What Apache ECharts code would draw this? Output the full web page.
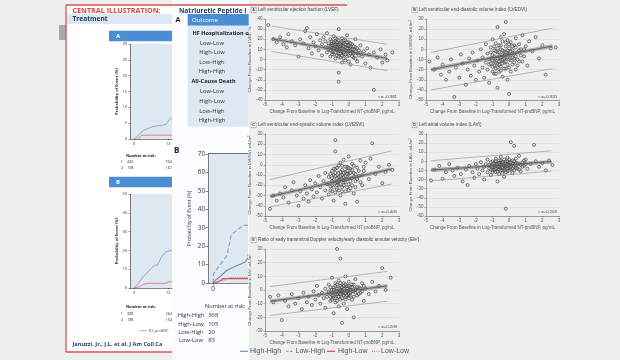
<!DOCTYPE html>
<html><head><meta charset="utf-8">
<script src="https://cdn.jsdelivr.net/npm/echarts@6/dist/echarts.min.js"></script>
<style>html,body{margin:0;padding:0;background:#eef0ef}#c{width:620px;height:360px}</style>
</head><body><div id="c"></div>
<script>
// ---------- DATA ----------
const scatterXName = 'Change From Baseline in Log-Transformed NT-proBNP, pg/mL';
const panelTitles = ['Left ventricular ejection fraction (LVEF)','Left ventricular end-diastolic volume index (LVEDVI)','Left ventricular end-systolic volume index (LVESVI)','Left atrial volume index (LAVI)','Ratio of early transmitral Doppler velocity/early diastolic annular velocity (E/e\u2032)'];
const panelLetters = ['A','B','C','D','E'];
const yTitles = ['Change From Baseline in LVEF, %','Change From Baseline in LVEDVI, mL/m\u00b2','Change From Baseline in LVESVI, mL/m\u00b2','Change From Baseline in LAVI, mL/m\u00b2','Change From Baseline in E/e\u2032, mL/m\u00b2'];
const rLabels = ['r = -0.381','r =+0.320','r =+0.405','r =+0.263','r =+0.209'];
const yRanges = [[-40,40],[-50,30],[-50,30],[-60,30],[-30,30]];

const lvefPoints = [[-4.8,34],[-4.5,20],[-4.3,17],[-4.1,22],[-3.9,15],[-3.7,12],[-3.6,25],[-3.4,18],[-3.2,14],[-3.0,3],[-2.9,20],[-2.7,16],[-2.6,28],[-2.5,31],[-2.4,11],[-2.3,22],[-2.2,6],[-2.1,17],[-2.0,13],[-1.9,25],[-1.8,9],[-1.7,19],[-1.6,15],[-1.6,4],[-1.5,22],[-1.4,12],[-1.4,18],[-1.3,7],[-1.3,26],[-1.2,14],[-1.2,10],[-1.1,20],[-1.1,3],[-1.0,16],[-1.0,12],[-1.0,8],[-0.9,23],[-0.9,14],[-0.9,5],[-0.8,18],[-0.8,11],[-0.8,1],[-0.7,15],[-0.7,9],[-0.7,20],[-0.6,30],[-0.6,13],[-0.6,6],[-0.6,-13],[-0.6,-22],[-0.5,17],[-0.5,11],[-0.5,2],[-0.5,8],[-0.4,14],[-0.4,21],[-0.4,-3],[-0.3,10],[-0.3,16],[-0.3,5],[-0.2,12],[-0.2,19],[-0.2,-1],[-0.1,8],[-0.1,14],[-0.1,24],[0.0,11],[0.0,4],[0.0,17],[0.1,9],[0.1,13],[0.1,-5],[0.2,7],[0.2,15],[0.3,10],[0.3,2],[0.4,12],[0.4,20],[0.5,6],[0.5,-2],[0.6,9],[0.7,14],[0.8,3],[0.9,8],[1.0,-4],[1.1,11],[1.2,5],[1.3,-8],[1.5,-30],[1.5,7],[1.7,2],[1.9,10],[2.0,-3],[2.2,5],[2.3,-1],[2.6,7]];
const lvefCore = [[-1.2,16],[-1.1,13],[-1.1,9],[-1.0,18],[-1.0,14],[-1.0,5],[-0.9,11],[-0.9,17],[-0.9,8],[-0.8,13],[-0.8,21],[-0.8,7],[-0.8,15],[-0.7,12],[-0.7,4],[-0.7,17],[-0.7,10],[-0.6,15],[-0.6,9],[-0.6,19],[-0.6,3],[-0.5,13],[-0.5,6],[-0.5,15],[-0.5,10],[-0.4,8],[-0.4,17],[-0.4,11],[-0.4,4],[-0.3,13],[-0.3,7],[-0.3,19],[-0.3,1],[-0.2,9],[-0.2,15],[-0.2,5],[-0.1,11],[-0.1,17],[-0.1,3],[0.0,8],[0.0,14],[0.0,-2],[0.1,11],[0.1,6],[0.1,16],[0.2,3],[0.2,10],[0.3,13],[0.3,6],[0.4,8],[0.4,1],[0.5,11],[0.6,4],[0.7,7]];
const lvedviPoints = [[-4.8,-12],[-4.5,-20],[-4.3,-8],[-4.1,-25],[-4.0,-15],[-3.8,-30],[-3.6,-22],[-3.5,-10],[-3.3,-47],[-3.2,-18],[-3.0,-28],[-2.9,-5],[-2.8,-14],[-2.6,-35],[-2.5,-20],[-2.4,-9],[-2.3,-26],[-2.2,-3],[-2.1,-16],[-2.0,-30],[-1.9,-11],[-1.8,-22],[-1.7,0],[-1.6,-18],[-1.6,-8],[-1.5,-28],[-1.4,-13],[-1.4,5],[-1.3,-20],[-1.3,-4],[-1.2,-15],[-1.2,-33],[-1.1,-9],[-1.1,2],[-1.0,-17],[-1.0,-6],[-1.0,10],[-0.9,-24],[-0.9,-12],[-0.9,-1],[-0.8,-19],[-0.8,6],[-0.8,-9],[-0.7,22],[-0.7,-14],[-0.7,-3],[-0.7,-38],[-0.6,-7],[-0.6,4],[-0.6,-22],[-0.5,-11],[-0.5,0],[-0.5,12],[-0.5,-17],[-0.4,-5],[-0.4,-27],[-0.4,8],[-0.3,-13],[-0.3,-2],[-0.3,15],[-0.2,27],[-0.2,-8],[-0.2,-19],[-0.2,3],[-0.1,-4],[-0.1,-30],[-0.1,9],[0.0,-10],[0.0,1],[0.0,-44],[0.1,-6],[0.1,7],[0.2,-15],[0.2,-1],[0.3,4],[0.3,-9],[0.4,-20],[0.4,11],[0.5,-3],[0.6,5],[0.6,-12],[0.7,0],[0.8,14],[0.9,-7],[1.0,3],[1.1,-16],[1.2,8],[1.4,-2],[1.6,12],[1.8,-9],[2.0,4],[2.2,-25],[2.5,1],[2.8,2]];
const lvedviCore = [[-1.2,-10],[-1.1,-14],[-1.1,-3],[-1.0,-11],[-1.0,-22],[-0.9,-7],[-0.9,-16],[-0.9,3],[-0.8,-13],[-0.8,-2],[-0.8,-24],[-0.7,-9],[-0.7,-18],[-0.7,1],[-0.6,-12],[-0.6,-3],[-0.6,-15],[-0.5,-8],[-0.5,-21],[-0.5,4],[-0.4,-14],[-0.4,-1],[-0.4,-10],[-0.3,-6],[-0.3,-19],[-0.3,-9],[-0.2,-12],[-0.2,-3],[-0.2,7],[-0.1,-15],[-0.1,-8],[-0.1,-1],[0.0,-5],[0.0,-18],[0.0,5],[0.1,-11],[0.1,-2],[0.1,-22],[0.2,-8],[0.2,3],[0.3,-13],[0.3,-4],[0.4,-7],[0.4,2],[0.5,-10],[0.5,-16],[0.6,-1],[0.7,-6],[0.8,-12],[0.9,0]];
const lvesviPoints = [[-4.7,-43],[-4.5,-30],[-4.3,-35],[-4.1,-28],[-3.9,-32],[-3.8,-22],[-3.6,-37],[-3.4,-25],[-3.3,-17],[-3.1,-30],[-3.0,-40],[-2.9,-26],[-2.7,-33],[-2.6,-20],[-2.5,-28],[-2.4,-36],[-2.3,-15],[-2.2,-24],[-2.1,-31],[-2.0,-18],[-1.9,-27],[-1.8,-11],[-1.7,-22],[-1.6,-33],[-1.5,-16],[-1.4,-25],[-1.4,-8],[-1.3,-19],[-1.2,-29],[-1.2,-12],[-1.1,-21],[-1.0,-6],[-1.0,-16],[-1.0,-26],[-0.9,-10],[-0.9,-35],[-0.8,24],[-0.8,13],[-0.8,-18],[-0.8,-4],[-0.7,-13],[-0.7,-24],[-0.6,-8],[-0.6,-1],[-0.6,-20],[-0.5,-15],[-0.5,-30],[-0.5,2],[-0.4,-10],[-0.4,-22],[-0.4,-5],[-0.3,-17],[-0.3,-12],[-0.3,5],[-0.2,-26],[-0.2,-7],[-0.2,-38],[-0.1,-14],[-0.1,-2],[0.0,-19],[0.0,-9],[0.0,8],[0.1,-23],[0.1,-4],[0.2,-13],[0.2,1],[0.3,-28],[0.3,-8],[0.4,-16],[0.5,-3],[0.5,-36],[0.6,-11],[0.7,4],[0.8,-20],[0.9,-6],[1.0,2],[1.2,-14],[1.3,6],[1.4,21],[1.6,-9],[1.8,-2],[2.0,-18],[2.2,-7],[2.4,0],[2.6,-5]];
const lvesviCore = [[-1.2,-18],[-1.1,-9],[-1.1,-25],[-1.0,-13],[-1.0,-20],[-0.9,-15],[-0.9,-4],[-0.9,-22],[-0.8,-11],[-0.8,-27],[-0.8,-8],[-0.7,-17],[-0.7,-3],[-0.7,-20],[-0.6,-12],[-0.6,-25],[-0.6,-16],[-0.5,-7],[-0.5,-19],[-0.5,-11],[-0.4,-14],[-0.4,-1],[-0.4,-26],[-0.3,-8],[-0.3,-20],[-0.3,-15],[-0.2,-11],[-0.2,-2],[-0.2,-17],[-0.1,-9],[-0.1,-22],[-0.1,-6],[0.0,-13],[0.0,-3],[0.0,-25],[0.1,-16],[0.1,-8],[0.2,-20],[0.2,-5],[0.3,-12],[0.3,-1],[0.4,-9],[0.4,-22],[0.5,-14],[0.6,-6],[0.7,-17],[0.8,-10],[0.9,-2]];
const laviPoints = [[-4.7,-21],[-4.5,-9],[-4.2,-5],[-4.0,-19],[-3.8,-12],[-3.6,-3],[-3.4,-10],[-3.3,-16],[-3.1,-7],[-2.9,-14],[-2.8,-22],[-2.6,-9],[-2.5,-26],[-2.4,-5],[-2.2,-12],[-2.1,-18],[-2.0,-3],[-1.9,-8],[-1.8,-14],[-1.7,-1],[-1.6,-10],[-1.5,-6],[-1.5,-20],[-1.4,-3],[-1.3,-12],[-1.3,2],[-1.2,-8],[-1.1,-5],[-1.1,-15],[-1.0,0],[-1.0,-10],[-0.9,-4],[-0.9,-7],[-0.8,3],[-0.8,-12],[-0.8,-2],[-0.7,-6],[-0.7,-9],[-0.7,-22],[-0.6,1],[-0.6,-4],[-0.6,-14],[-0.5,-7],[-0.5,-1],[-0.5,5],[-0.4,-10],[-0.4,-3],[-0.4,-6],[-0.3,2],[-0.3,-8],[-0.3,-17],[-0.2,-5],[-0.2,-52],[-0.2,0],[-0.1,-11],[-0.1,-3],[-0.1,4],[0.0,-7],[0.0,-1],[0.1,21],[0.1,-9],[0.1,-4],[0.2,1],[0.2,-13],[0.3,17],[0.3,-6],[0.4,-2],[0.4,3],[0.5,-8],[0.6,-3],[0.6,6],[0.7,-11],[0.8,-1],[0.9,-5],[1.0,2],[1.1,-8],[1.3,-3],[1.5,18],[1.6,0],[1.8,-6],[2.0,-2],[2.2,-10],[2.4,1],[2.6,-4]];
const laviCore = [[-1.2,-4],[-1.1,-9],[-1.1,-1],[-1.0,-6],[-1.0,-12],[-0.9,-2],[-0.9,-9],[-0.8,-5],[-0.8,-8],[-0.8,0],[-0.7,-3],[-0.7,-11],[-0.6,-6],[-0.6,-2],[-0.6,-9],[-0.5,-4],[-0.5,-10],[-0.5,1],[-0.4,-7],[-0.4,-1],[-0.4,-13],[-0.3,-5],[-0.3,-3],[-0.3,-10],[-0.2,-7],[-0.2,-2],[-0.2,-12],[-0.1,-5],[-0.1,-8],[-0.1,0],[0.0,-4],[0.0,-10],[0.0,2],[0.1,-6],[0.1,-1],[0.2,-8],[0.2,-3],[0.3,-10],[0.3,0],[0.4,-5],[0.4,-7],[0.5,-2],[0.6,-9],[0.7,-4],[0.8,-6],[0.9,1],[1.0,-3]];
const eePoints = [[-4.7,-5],[-4.5,-9],[-4.2,-4],[-4.0,-22],[-3.8,-8],[-3.6,-12],[-3.4,-3],[-3.2,-10],[-3.0,-6],[-2.8,-14],[-2.7,-2],[-2.5,-9],[-2.4,-5],[-2.2,-11],[-2.1,-1],[-2.0,-7],[-1.9,3],[-1.8,-4],[-1.7,-10],[-1.6,-2],[-1.5,-6],[-1.4,1],[-1.4,-13],[-1.3,-5],[-1.2,4],[-1.2,-2],[-1.1,-8],[-1.0,0],[-1.0,-4],[-1.0,9],[-0.9,-6],[-0.9,2],[-0.9,-17],[-0.8,-1],[-0.8,5],[-0.8,-9],[-0.7,30],[-0.7,-3],[-0.7,1],[-0.6,-5],[-0.6,7],[-0.6,-12],[-0.5,23],[-0.5,-1],[-0.5,3],[-0.5,-7],[-0.4,-24],[-0.4,0],[-0.4,-3],[-0.3,5],[-0.3,-2],[-0.3,-10],[-0.2,1],[-0.2,-5],[-0.2,10],[-0.1,-1],[-0.1,3],[-0.1,-14],[0.0,0],[0.0,-4],[0.0,6],[0.1,-2],[0.1,2],[0.2,-7],[0.2,4],[0.3,-1],[0.3,-20],[0.4,1],[0.4,8],[0.5,-4],[0.6,2],[0.7,-2],[0.8,5],[0.9,-8],[1.0,1],[1.2,-3],[1.4,6],[1.6,-1],[1.8,3],[2.0,16],[2.2,0],[2.5,9]];
const eeCore = [[-1.2,-1],[-1.1,-5],[-1.1,2],[-1.0,-2],[-1.0,-7],[-0.9,0],[-0.9,-4],[-0.8,3],[-0.8,-3],[-0.8,-6],[-0.7,-1],[-0.7,4],[-0.7,-8],[-0.6,-2],[-0.6,1],[-0.6,-5],[-0.5,-3],[-0.5,5],[-0.5,0],[-0.4,-6],[-0.4,2],[-0.4,-1],[-0.3,-4],[-0.3,1],[-0.3,3],[-0.2,-2],[-0.2,-7],[-0.2,4],[-0.1,-4],[-0.1,1],[-0.1,-1],[0.0,-3],[0.0,3],[0.0,-6],[0.1,0],[0.1,-4],[0.2,2],[0.2,-1],[0.3,-5],[0.3,4],[0.4,-2],[0.4,0],[0.5,2],[0.6,-3],[0.7,1],[0.8,-1],[0.9,3]];

const lvefFit = [[-4.6,20.4],[2.3,1.1]], lvefUpper = [[-4.6,33],[2.3,15]], lvefLower = [[-4.6,8],[2.3,-11]];
const lvedviFit = [[-4.7,-20],[2.6,3.3]], lvedviUpper = [[-4.7,-3],[2.6,21]], lvedviLower = [[-4.7,-40],[2.6,-19]];
const lvesviFit = [[-4.7,-31],[2.55,-4.2]], lvesviUpper = [[-4.7,-14.5],[2.55,13.5]], lvesviLower = [[-4.7,-41],[2.55,-19]];
const laviFit = [[-4.7,-9.6],[2.55,-0.4]], laviUpper = [[-4.7,0.7],[2.55,11.6]], laviLower = [[-4.7,-21.6],[2.55,-10.7]];
const eeFit = [[-4.7,-8.2],[2.3,3.0]], eeUpper = [[-4.7,2.5],[2.3,13.6]], eeLower = [[-4.7,-18.6],[2.3,-8.2]];

// Kaplan-Meier curves (months, %)
const kmA_ntprobnp = [[0,0],[0.9,0.5],[1.8,1.5],[3.2,2.6],[4.5,3.2],[6.6,3.9],[8.5,4.2],[10,4.4],[11.2,4.6],[12.3,6],[13.3,6.9]];
const kmA_usual = [[0,0],[1.5,0],[2.6,1.2],[13.3,1.2]];
const kmB_ntprobnp = [[0,0],[0.3,0],[1.5,2.5],[3.2,6],[5.5,9.6],[7.2,12.2],[8.3,12.2],[9.5,16.3],[11.2,19.3],[13.3,20.2]];
const kmB_usual = [[0,0],[2,0.7],[3.2,2],[4.9,2.5],[11.2,2.5],[12.3,3.4],[13.3,3.4]];
const kmHighHigh = [[0,0],[1,1.5],[2.9,3.6],[5.6,6.9],[8.2,8.7],[10.9,10.2],[12.9,11.4],[13.4,12.5],[14,13.8]];
const kmLowHigh = [[0,0],[0.2,5.1],[2.9,10],[5.6,15],[7.3,26.3],[12.2,31.3],[14,31.3]];
const kmHighLow = [[0,0],[1.9,0.5],[3.2,1.5],[4.2,2.4],[14,2.4]];
const kmLowLow = [[0,0],[2.5,0.8],[5,1.8],[6.6,2.9],[14,2.9]];
const groupNames = ['High-High','Low-High','High-Low','Low-Low'];
const groupAtRisk = ['368','105','20','83'];
const groupAtRiskLabels = ['High-High','High-Low','Low-High','Low-Low'];
const outcomeRows = ['Low-Low','High-Low','Low-High','High-High'];
const riskA = [['1','440','354'],['2','198','167']];
const riskB = [['1','388','264'],['2','188','154']];

// ---------- CHART ----------
const SF = 'Liberation Sans';
const OF = 'Open Sans';
const chart = echarts.init(document.getElementById('c'), null, {renderer:'canvas'});

const grids = [
  {left:130, top:44, width:42, height:95},
  {left:130, top:194, width:42, height:94},
  {left:208, top:154, width:40, height:129},
  {left:265, top:19, width:134, height:81},
  {left:426, top:19, width:133, height:81},
  {left:265, top:134, width:134, height:82},
  {left:426, top:134, width:133, height:82},
  {left:265, top:249, width:134, height:82}
].map((g,i)=>Object.assign(g,{show:i<3, backgroundColor:i<3?'#dfe7f1':'transparent', borderWidth:0, z:2}));

const axLine = {show:true, onZero:false, lineStyle:{color:'#333', width:0.6}};
const xAxes = [], yAxes = [];
[[0,30,5],[0,50,10]].forEach((r,i)=>{
  xAxes.push({gridIndex:i, type:'value', min:-1.4, max:13.3, z:3, axisLine:axLine,
    axisTick:{show:true, customValues:[0,12], length:1.5, lineStyle:{color:'#333',width:0.5}},
    axisLabel:{customValues:[0,12], fontSize:4, color:'#333', margin:3, fontFamily:OF}, splitLine:{show:false}});
  yAxes.push({gridIndex:i, type:'value', min:r[0], max:r[1], interval:r[2], z:3, axisLine:axLine,
    axisTick:{show:true, length:1.5, lineStyle:{color:'#333',width:0.5}},
    axisLabel:{fontSize:4, color:'#333', margin:3, fontFamily:OF}, splitLine:{show:false},
    name:'Probability of Event (%)', nameLocation:'middle', nameGap:10, nameRotate:90,
    nameTextStyle:{fontSize:4, fontWeight:'bold', color:'#333', fontFamily:OF}});
});
xAxes.push({gridIndex:2, type:'value', min:-2, max:14, z:3, axisLine:axLine,
  axisTick:{show:true, customValues:[0], length:2.5, lineStyle:{color:'#333',width:0.6}},
  axisLabel:{customValues:[0], fontSize:6.5, color:'#333', margin:3, fontFamily:OF}, splitLine:{show:false}});
yAxes.push({gridIndex:2, type:'value', min:0, max:70, interval:10, z:3, axisLine:axLine,
  axisTick:{show:true, length:2.5, lineStyle:{color:'#333',width:0.6}},
  axisLabel:{fontSize:6.3, color:'#333', margin:3, fontFamily:OF}, splitLine:{show:false},
  name:'Probability of Event (%)', nameLocation:'middle', nameGap:16, nameRotate:90,
  nameTextStyle:{fontSize:5.2, color:'#333', fontFamily:OF}});
for (let p=0;p<5;p++){
  const gi = p+3;
  xAxes.push({gridIndex:gi, type:'value', min:-5, max:3, interval:1, z:3,
    axisLine:{show:true,onZero:false,lineStyle:{color:'#666',width:0.6}},
    axisTick:{show:true,length:1.5,lineStyle:{color:'#666',width:0.5}},
    axisLabel:{fontSize:4.5,color:'#555',margin:2.5,fontFamily:SF}, splitLine:{show:false},
    name:scatterXName, nameLocation:'middle', nameGap:9.5, nameTextStyle:{fontSize:4.5,color:'#555',fontFamily:SF}});
  yAxes.push({gridIndex:gi, type:'value', min:yRanges[p][0], max:yRanges[p][1], interval:10, z:3,
    axisLine:{show:true,onZero:false,lineStyle:{color:'#666',width:0.6}},
    axisTick:{show:true,length:1.5,lineStyle:{color:'#666',width:0.5}},
    axisLabel:{fontSize:4.5,color:'#555',margin:2.5,fontFamily:SF},
    splitLine:{show:true,lineStyle:{color:'#d3d6d6',width:0.5}},
    name:yTitles[p], nameLocation:'middle', nameGap:12, nameRotate:90, nameTextStyle:{fontSize:4.3,color:'#555',fontFamily:SF}});
}

const series = [];
const groupColors = ['#6f8fb8','#8aa2c4','#c9504c','#c98a88'];
const groupTypes = ['solid','dashed','solid','dotted'];
function km(idx, data, name, color, type, width){
  series.push({type:'line', name:name, xAxisIndex:idx, yAxisIndex:idx, data:data, symbol:'none', smooth:false, silent:true, z:4,
    lineStyle:{color:color, width:width, type:type}, itemStyle:{color:color}});
}
km(0, kmA_ntprobnp, 'NT-proBNP A', '#7a98bf', 'solid', 0.8);
km(0, kmA_usual, 'Usual A', '#d9706c', 'solid', 0.8);
km(1, kmB_ntprobnp, 'NT-proBNP B', '#7a98bf', 'solid', 0.8);
km(1, kmB_usual, 'Usual B', '#d9706c', 'solid', 0.8);
[kmHighHigh, kmLowHigh, kmHighLow, kmLowLow].forEach((d,i)=>km(2, d, groupNames[i], groupColors[i], groupTypes[i], 1.15));

const scatterSets = [
  [lvefPoints, lvefCore, lvefFit, lvefUpper, lvefLower],
  [lvedviPoints, lvedviCore, lvedviFit, lvedviUpper, lvedviLower],
  [lvesviPoints, lvesviCore, lvesviFit, lvesviUpper, lvesviLower],
  [laviPoints, laviCore, laviFit, laviUpper, laviLower],
  [eePoints, eeCore, eeFit, eeUpper, eeLower]
];
scatterSets.forEach((s,p)=>{
  const gi = p+3;
  const base = {xAxisIndex:gi, yAxisIndex:gi, silent:true};
  [s[0], s[1]].forEach(d=>series.push(Object.assign({type:'scatter', data:d, symbol:'circle', symbolSize:3, z:4,
    itemStyle:{color:'rgba(255,255,255,0.3)', borderColor:'#2e2e2e', borderWidth:0.8}}, base)));
  [s[3], s[4]].forEach(d=>series.push(Object.assign({type:'line', data:d, symbol:'none', z:5,
    lineStyle:{color:'#8a8a8a', width:0.6}}, base)));
  series.push(Object.assign({type:'line', data:s[2], symbol:'none', z:5,
    lineStyle:{color:'rgba(110,110,110,0.5)', width:3.6}}, base));
  series.push(Object.assign({type:'line', data:s[2], symbol:'none', z:6,
    lineStyle:{color:'#555', width:0.8}}, base));
});

// ---------- GRAPHIC ----------
const G = [];
const rect = (x,y,w,h,fill,z,stroke,lw)=>G.push({type:'rect', shape:{x:x,y:y,width:w,height:h}, style:{fill:fill, stroke:stroke||null, lineWidth:lw||0}, z:z, silent:true});
const line = (x1,y1,x2,y2,color,w,z,dash)=>G.push({type:'line', shape:{x1:x1,y1:y1,x2:x2,y2:y2}, style:{stroke:color, lineWidth:w, lineDash:dash||null}, z:z||5, silent:true});
const text = (x,y,t,size,color,opt)=>{opt=opt||{}; G.push({type:'text', x:x, y:y, z:6, silent:true,
  style:{text:t, fontSize:size, fill:color, fontFamily:opt.font||OF, fontWeight:opt.bold?'bold':'normal', align:opt.align||'left', verticalAlign:'middle'}});};

rect(66,5,182,347,'#ffffff',0);
rect(172,0,77,360,'#fbfcfd',0);
rect(59,25,7,15,'#a9a9b6',0);
rect(67,14,105,10,'#dfe8f2',0);
line(66,5,347,5,'#d9534f',1.3,6);
line(66,5,66,352,'#d9534f',1.3,6);
line(66,352,172,352,'#d9534f',1.3,6);
text(72.5,11,'CENTRAL ILLUSTRATION:',7.2,'#d9473f',{bold:true});
text(179,11,'Natriuretic Peptide I',6.6,'#1f3d6b',{bold:true});
text(72.5,19.2,'Treatment',6.6,'#1f3d6b',{bold:true});
rect(109,30.7,63,10.6,'#4a8fd3',0);
text(116,36,'A',6,'#ffffff',{bold:true});
rect(109,176.7,63,10.6,'#4a8fd3',0);
text(116,182,'B',6,'#ffffff',{bold:true});
text(126,155.7,'Number at risk:',3.8,'#222',{bold:true});
riskA.forEach((r,i)=>{const y=162.3+6*i; text(120.7,y,r[0],3.8,'#333'); text(127,y,r[1],3.8,'#333'); text(165.5,y,r[2],3.8,'#333');});
text(126,306.7,'Number at risk:',3.8,'#222',{bold:true});
riskB.forEach((r,i)=>{const y=314+6*i; text(120.7,y,r[0],3.8,'#333'); text(127,y,r[1],3.8,'#333'); text(165.5,y,r[2],3.8,'#333');});
line(140,330.7,147,330.7,'#7a98bf',0.7,6);
text(148.5,330.7,'NT-proBNP',3.8,'#555');
text(72.5,344,'Januzzi, Jr., J.L. et al. J Am Coll Ca',5.6,'#1f3d6b',{bold:true});
text(175.5,20,'A',7,'#222',{bold:true});
rect(187.7,14,61,11.7,'#4a8fd3',0);
text(192,20,'Outcome',6,'#ffffff');
rect(187.7,25.7,61,101,'#dfe8f2',0);
text(192.5,33.3,'HF Hospitalization o',5.6,'#222',{bold:true});
outcomeRows.forEach((r,i)=>text(212,43.3+9.5*i,r,5.8,'#333',{align:'center'}));
text(191.5,81.7,'All-Cause Death',5.6,'#222',{bold:true});
outcomeRows.forEach((r,i)=>text(212,91.7+9.7*i,r,5.8,'#333',{align:'center'}));
text(174,151,'B',8,'#222',{bold:true});
line(208,153.5,248,153.5,'#333',0.7,6);
text(205,306.7,'Number at risk:',5.6,'#333');
groupAtRiskLabels.forEach((r,i)=>{const y=315.7+8.33*i; text(191,y,r,5.8,'#333',{align:'center'}); text(208.3,y,groupAtRisk[i],5.8,'#333');});
const titlePos = [[251,10],[412,10],[251,125],[412,125],[251,240]];
const rPos = [[397,97],[557,97],[397,212],[557,211.7],[397,326.7]];
titlePos.forEach((t,p)=>{
  rect(t[0],t[1]-2.6,5.2,5.2,'#ffffff',1,'#777',0.5);
  text(t[0]+2.6,t[1],panelLetters[p],3.8,'#333',{font:SF,align:'center',bold:true});
  text(t[0]+7,t[1],panelTitles[p],4.7,'#444',{font:SF});
  text(rPos[p][0],rPos[p][1],rLabels[p],4.3,'#444',{font:SF,align:'right'});
});
// bottom legend (group line styles)
const legendX = [[240,250],[286,295.5],[327,338],[372,381]];
const dashes = [null,[2.5,1.5],null,[1,1.2]];
groupNames.forEach((n,i)=>{
  line(legendX[i][0],351.3,legendX[i][0]+8,351.3,groupColors[i],1.2,6,dashes[i]);
  text(legendX[i][1],351.3,n,7,'#555',{font:SF});
});

chart.setOption({
  backgroundColor:'#eef0ef',
  animation:false,
  grid:grids, xAxis:xAxes, yAxis:yAxes, series:series, graphic:G
});
</script></body></html>
